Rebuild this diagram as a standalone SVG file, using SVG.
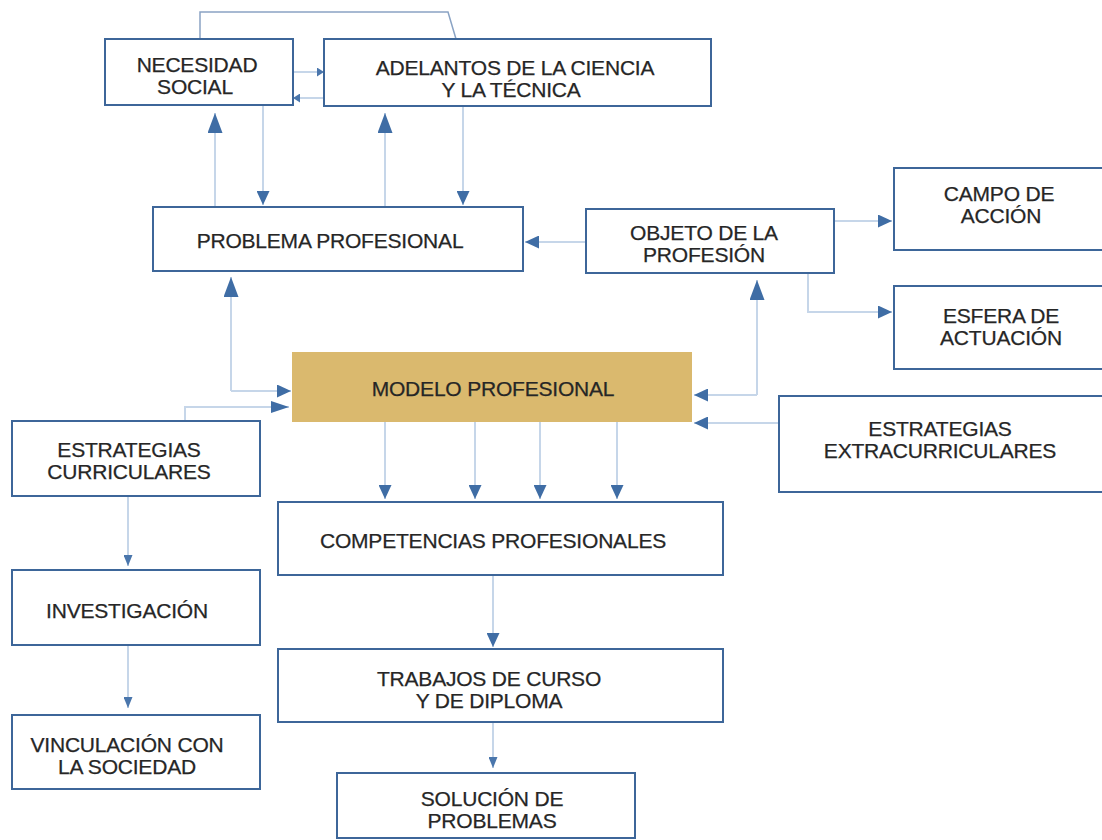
<svg xmlns="http://www.w3.org/2000/svg" width="1102" height="840" viewBox="0 0 1102 840">
<style>
.box{fill:#ffffff;stroke:#3d6699;stroke-width:2}
.model{fill:#dab96e;stroke:none}
.t{font-family:"Liberation Sans",Arial,sans-serif;font-size:21px;letter-spacing:-0.2px;fill:#262626;stroke:#262626;stroke-width:0.25;text-anchor:middle}
.c{fill:none;stroke:#c6d6e9;stroke-width:2}
.ct{fill:none;stroke:#8aa3c4;stroke-width:1.5}
</style>
<defs>
<marker id="aBig" viewBox="0 0 20 15" markerWidth="20" markerHeight="15" refX="20" refY="7.5" orient="auto" markerUnits="userSpaceOnUse"><path d="M0,0 L20,7.5 L0,15 z" fill="#3f6da5"/></marker>
<marker id="aWide" viewBox="0 0 18 12" markerWidth="18" markerHeight="12" refX="18" refY="6" orient="auto" markerUnits="userSpaceOnUse"><path d="M0,0 L18,6 L0,12 z" fill="#3f6da5"/></marker>
<marker id="aMed" viewBox="0 0 14 13" markerWidth="14" markerHeight="13" refX="14" refY="6.5" orient="auto" markerUnits="userSpaceOnUse"><path d="M0,0 L14,6.5 L0,13 z" fill="#3f6da5"/></marker>
<marker id="aSm" viewBox="0 0 11 9" markerWidth="11" markerHeight="9" refX="11" refY="4.5" orient="auto" markerUnits="userSpaceOnUse"><path d="M0,0 L11,4.5 L0,9 z" fill="#4a76ac"/></marker>
<marker id="aTiny" viewBox="0 0 7 9" markerWidth="7" markerHeight="9" refX="7" refY="4.5" orient="auto" markerUnits="userSpaceOnUse"><path d="M0,0 L7,4.5 L0,9 z" fill="#4a76ac"/></marker>
</defs>
<rect width="1102" height="840" fill="#ffffff"/>
<g id="connectors">
<path class="ct" d="M200,39 V12 H448 L456,39"/>
<path class="c" d="M293,72 H324" marker-end="url(#aTiny)"/>
<path class="c" d="M324,98 H293" marker-end="url(#aTiny)"/>
<path class="c" d="M215,207 V113" marker-end="url(#aBig)"/>
<path class="c" d="M263,105 V205" marker-end="url(#aMed)"/>
<path class="c" d="M385,207 V113" marker-end="url(#aBig)"/>
<path class="c" d="M463,106 V205" marker-end="url(#aMed)"/>
<path class="c" d="M586,242 H525" marker-end="url(#aMed)"/>
<path class="c" d="M834,221 H892" marker-end="url(#aMed)"/>
<path class="c" d="M808,273 V312 H892" marker-end="url(#aMed)"/>
<path class="c" d="M231,391 V277" marker-end="url(#aBig)"/>
<path class="c" d="M231,391 H291" marker-end="url(#aMed)"/>
<path class="c" d="M185,421 V407 H289" marker-end="url(#aWide)"/>
<path class="c" d="M757,395 V280" marker-end="url(#aBig)"/>
<path class="c" d="M757,395 H694" marker-end="url(#aMed)"/>
<path class="c" d="M779,423 H694" marker-end="url(#aMed)"/>
<path class="c" d="M385,422 V499" marker-end="url(#aMed)"/>
<path class="c" d="M475,422 V499" marker-end="url(#aMed)"/>
<path class="c" d="M540,422 V499" marker-end="url(#aMed)"/>
<path class="c" d="M617,422 V499" marker-end="url(#aMed)"/>
<path class="c" d="M128,496 V566" marker-end="url(#aSm)"/>
<path class="c" d="M128,645 V708" marker-end="url(#aSm)"/>
<path class="c" d="M493,575 V647" marker-end="url(#aMed)"/>
<path class="c" d="M493,722 V768" marker-end="url(#aSm)"/>
</g>
<g id="necesidad"><rect class="box" x="105" y="39" width="188" height="66"/><text class="t" x="197" y="72">NECESIDAD</text><text class="t" x="195" y="94">SOCIAL</text></g>
<g id="adelantos"><rect class="box" x="324" y="39" width="387" height="67"/><text class="t" x="515" y="75">ADELANTOS DE LA CIENCIA</text><text class="t" x="511" y="97">Y LA TÉCNICA</text></g>
<g id="problema"><rect class="box" x="153" y="207" width="370" height="64"/><text class="t" x="330" y="248">PROBLEMA PROFESIONAL</text></g>
<g id="objeto"><rect class="box" x="586" y="209" width="248" height="64"/><text class="t" x="704" y="240">OBJETO DE LA</text><text class="t" x="704" y="262">PROFESIÓN</text></g>
<g id="campo"><rect class="box" x="894" y="168" width="220" height="82"/><text class="t" x="999" y="201">CAMPO DE</text><text class="t" x="1001" y="223">ACCIÓN</text></g>
<g id="esfera"><rect class="box" x="894" y="286" width="220" height="83"/><text class="t" x="1001" y="323">ESFERA DE</text><text class="t" x="1001" y="345">ACTUACIÓN</text></g>
<g id="modelo"><rect class="model" x="292" y="352" width="400" height="70"/><text class="t" x="493" y="396">MODELO PROFESIONAL</text></g>
<g id="extracurriculares"><rect class="box" x="779" y="396" width="335" height="96"/><text class="t" x="940" y="436">ESTRATEGIAS</text><text class="t" x="940" y="458">EXTRACURRICULARES</text></g>
<g id="curriculares"><rect class="box" x="12" y="421" width="248" height="75"/><text class="t" x="129" y="457">ESTRATEGIAS</text><text class="t" x="129" y="479">CURRICULARES</text></g>
<g id="competencias"><rect class="box" x="278" y="502" width="445" height="73"/><text class="t" x="493" y="548">COMPETENCIAS PROFESIONALES</text></g>
<g id="investigacion"><rect class="box" x="12" y="570" width="248" height="75"/><text class="t" x="127" y="618">INVESTIGACIÓN</text></g>
<g id="trabajos"><rect class="box" x="278" y="649" width="445" height="73"/><text class="t" x="489" y="686">TRABAJOS DE CURSO</text><text class="t" x="489" y="708">Y DE DIPLOMA</text></g>
<g id="vinculacion"><rect class="box" x="12" y="715" width="248" height="74"/><text class="t" x="127" y="752">VINCULACIÓN CON</text><text class="t" x="127" y="774">LA SOCIEDAD</text></g>
<g id="solucion"><rect class="box" x="337" y="773" width="298" height="65"/><text class="t" x="492" y="806">SOLUCIÓN DE</text><text class="t" x="492" y="828">PROBLEMAS</text></g>
</svg>
